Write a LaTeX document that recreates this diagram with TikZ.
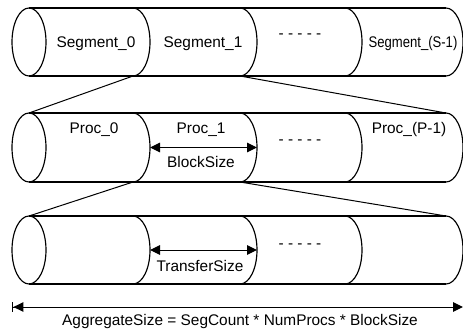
\documentclass[tikz,border=0pt]{standalone}
\usepackage{fontspec}
\usepackage{graphicx}
\setmainfont{Liberation Sans}
\usetikzlibrary{arrows.meta}

% One segmented tube: #1 name prefix, #2 top edge y, #3 bottom edge y
\newcommand\drawtube[3]{%
  \pgfmathsetmacro\tubery{(#2-(#3))/2}%
  \pgfmathsetmacro\tubeyc{(#2+(#3))/2}%
  \draw[outline] (29,\tubeyc) ellipse [x radius=17pt, y radius=\tubery pt];
  \draw[outline] (29,#2) -- (446,#2) (29,#3) -- (446,#3);
  \foreach \x/\n in {133/a,240/b,345/c,446/d} {
    \draw[outline] (\x,#2) arc[start angle=90, end angle=-90, x radius=17pt, y radius=\tubery pt];
    \coordinate (#1-\n-top) at (\x,#2);
    \coordinate (#1-\n-bot) at (\x,#3);
    \coordinate (#1-\n-mid) at (\x+17,\tubeyc);
  }
  \coordinate (#1-top) at (29,#2);
}

\begin{document}
\begin{tikzpicture}[x=1pt,y=1pt,
  outline/.style={line width=1.15pt},
  link/.style={line width=1pt},
  txt/.style={anchor=base, inner sep=0pt, font=\fontsize{15.4}{18}\selectfont},
  span/.style={line width=1pt, {Triangle[length=10pt,width=9.5pt]}-{Triangle[length=10pt,width=9.5pt]}},
  wide/.style={line width=1pt, {Bar[width=9.5pt,line width=1.4pt]Triangle[length=10pt,width=9.5pt]}-{Triangle[length=10pt,width=9.5pt]}}]
\useasboundingbox (0,0) rectangle (463,-330);

% the three levels
\drawtube{seg}{-8}{-76}
\drawtube{proc}{-113}{-182}
\drawtube{xfer}{-216}{-284}

% zoom lines between levels
\draw[link] (seg-a-bot) -- (proc-top);
\draw[link] (seg-b-bot) -- (proc-d-top);
\draw[link] (proc-a-bot) -- (xfer-top);
\draw[link] (proc-b-bot) -- (xfer-d-top);

% segment labels
\node[txt] (s0) at (96,-47.5) {Segment\_0};
\node[txt] (s1) at (203,-47.5) {Segment\_1};
\node[txt] (sd) at (300,-38) {- - - - -};
\node[txt] (sn) at (413,-47.5) {\scalebox{0.85}[1]{Segment\_(S-1)}};

% process labels
\node[txt] (p0) at (94,-133) {Proc\_0};
\node[txt] (p1) at (201,-133) {Proc\_1};
\node[txt] (pd) at (300,-144) {- - - - -};
\node[txt] (pn) at (409,-133) {Proc\_(P-1)};
\draw[span] (proc-a-mid) -- (proc-b-mid);
\node[txt] (bs) at (201,-167) {BlockSize};

% transfer labels
\node[txt] (xd) at (300,-248) {- - - - -};
\draw[span] (xfer-a-mid) -- (xfer-b-mid);
\node[txt] (ts) at (200,-271) {TransferSize};

% aggregate span
\coordinate (agg-l) at (12,-307);
\coordinate (agg-r) at (463,-307);
\draw[wide] (agg-l) -- (agg-r);
\node[txt] (ag) at (240,-325) {AggregateSize = SegCount * NumProcs * BlockSize};
\end{tikzpicture}
\end{document}
